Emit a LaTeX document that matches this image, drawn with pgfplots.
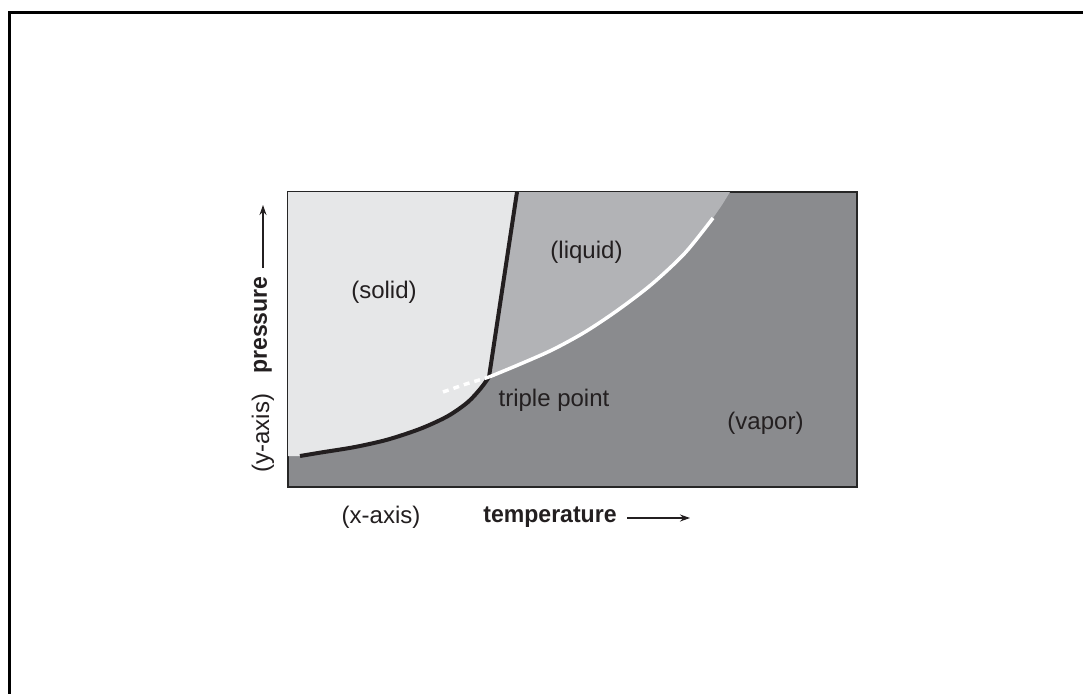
\documentclass[border=0pt]{standalone}
\usepackage{fontspec}
\setmainfont{Liberation Sans}[BoldFeatures={FakeStretch=0.96}]
\usepackage{pgfplots}
\pgfplotsset{compat=1.18}
\usetikzlibrary{arrows.meta}
\definecolor{solidc}{RGB}{230,231,232}
\definecolor{liquidc}{RGB}{178,179,182}
\definecolor{vaporc}{RGB}{138,139,142}
\definecolor{inkc}{RGB}{35,31,32}
\begin{document}
\begin{tikzpicture}[font=\fontsize{12}{14}\selectfont]
\useasboundingbox (0,0) rectangle (541.5pt,346.5pt);
\fill[white] (0,0) rectangle (541.5pt,346.5pt);
\draw[line width=1.5pt, black] (4.75pt,-20pt) -- (4.75pt,340.25pt) -- (560pt,340.25pt);
\begin{axis}[
  at={(144pt,103pt)}, anchor=south west,
  scale only axis, width=284.5pt, height=147.5pt,
  xmin=0, xmax=569, ymin=0, ymax=295,
  xtick=\empty, ytick=\empty,
  axis line style={black!85, line width=1pt},
  axis background/.style={fill=vaporc},
  clip mode=individual,
]
% solid region
\addplot[fill=solidc, draw=none] coordinates {
 (0,295) (229,295) (201,110) (193,99) (180,85) (160,71) (133,58.5) (100,47.5) (67,40) (33,34.5) (12,31) (0,31)
} -- cycle;
% liquid region
\addplot[fill=liquidc, draw=none] coordinates {
 (201,110) (229,295) (442,295) (434,282) (425,269) (397,234) (364,203) (330,177) (297,155) (264,137) (230,122)
} -- cycle;
% sublimation curve
\addplot[inkc, line width=2pt, smooth] coordinates {
 (12,31) (33,34.5) (67,40) (100,47.5) (133,58.5) (160,71) (180,85) (193,99) (201,110)
};
% fusion line
\addplot[inkc, line width=2pt] coordinates {(201,110) (229,295)};
% vaporization curve
\addplot[white, line width=1.75pt, smooth] coordinates {
 (201,110) (230,122) (264,137) (297,155) (330,177) (364,203) (397,234) (425,269)
};
% metastable extension
\addplot[white, line width=1.75pt, dash pattern=on 3pt off 2.5pt] coordinates {(155,95) (178,103) (201,110)};

\node[text=inkc, font=\fontsize{12}{14}\selectfont] at (axis cs:96,195) {(solid)};
\node[text=inkc, font=\fontsize{12}{14}\selectfont] at (axis cs:298.5,235) {(liquid)};
\node[text=inkc, font=\fontsize{12}{14}\selectfont] at (axis cs:266,87) {triple point};
\node[text=inkc, font=\fontsize{12}{14}\selectfont] at (axis cs:477.5,64) {(vapor)};
\node[text=inkc, font=\fontsize{12}{14}\selectfont] at (axis cs:93,-30) {(x-axis)};
\node[text=inkc, font=\fontsize{12}{14}\selectfont\bfseries] at (axis cs:262,-30) {temperature};
\draw[inkc, line width=0.6pt, -{Stealth[length=5pt,width=3.5pt]}] (axis cs:339,-31) -- (axis cs:402,-31);
\node[text=inkc, rotate=90, font=\fontsize{12}{14}\selectfont] at (axis cs:-25,54) {(y-axis)};
\node[text=inkc, rotate=90, font=\fontsize{12}{14}\selectfont\bfseries] at (axis cs:-25,162) {pressure};
\draw[inkc, line width=0.6pt, -{Stealth[length=5pt,width=3.5pt]}] (axis cs:-25,219) -- (axis cs:-25,282);
\end{axis}
\end{tikzpicture}
\end{document}
